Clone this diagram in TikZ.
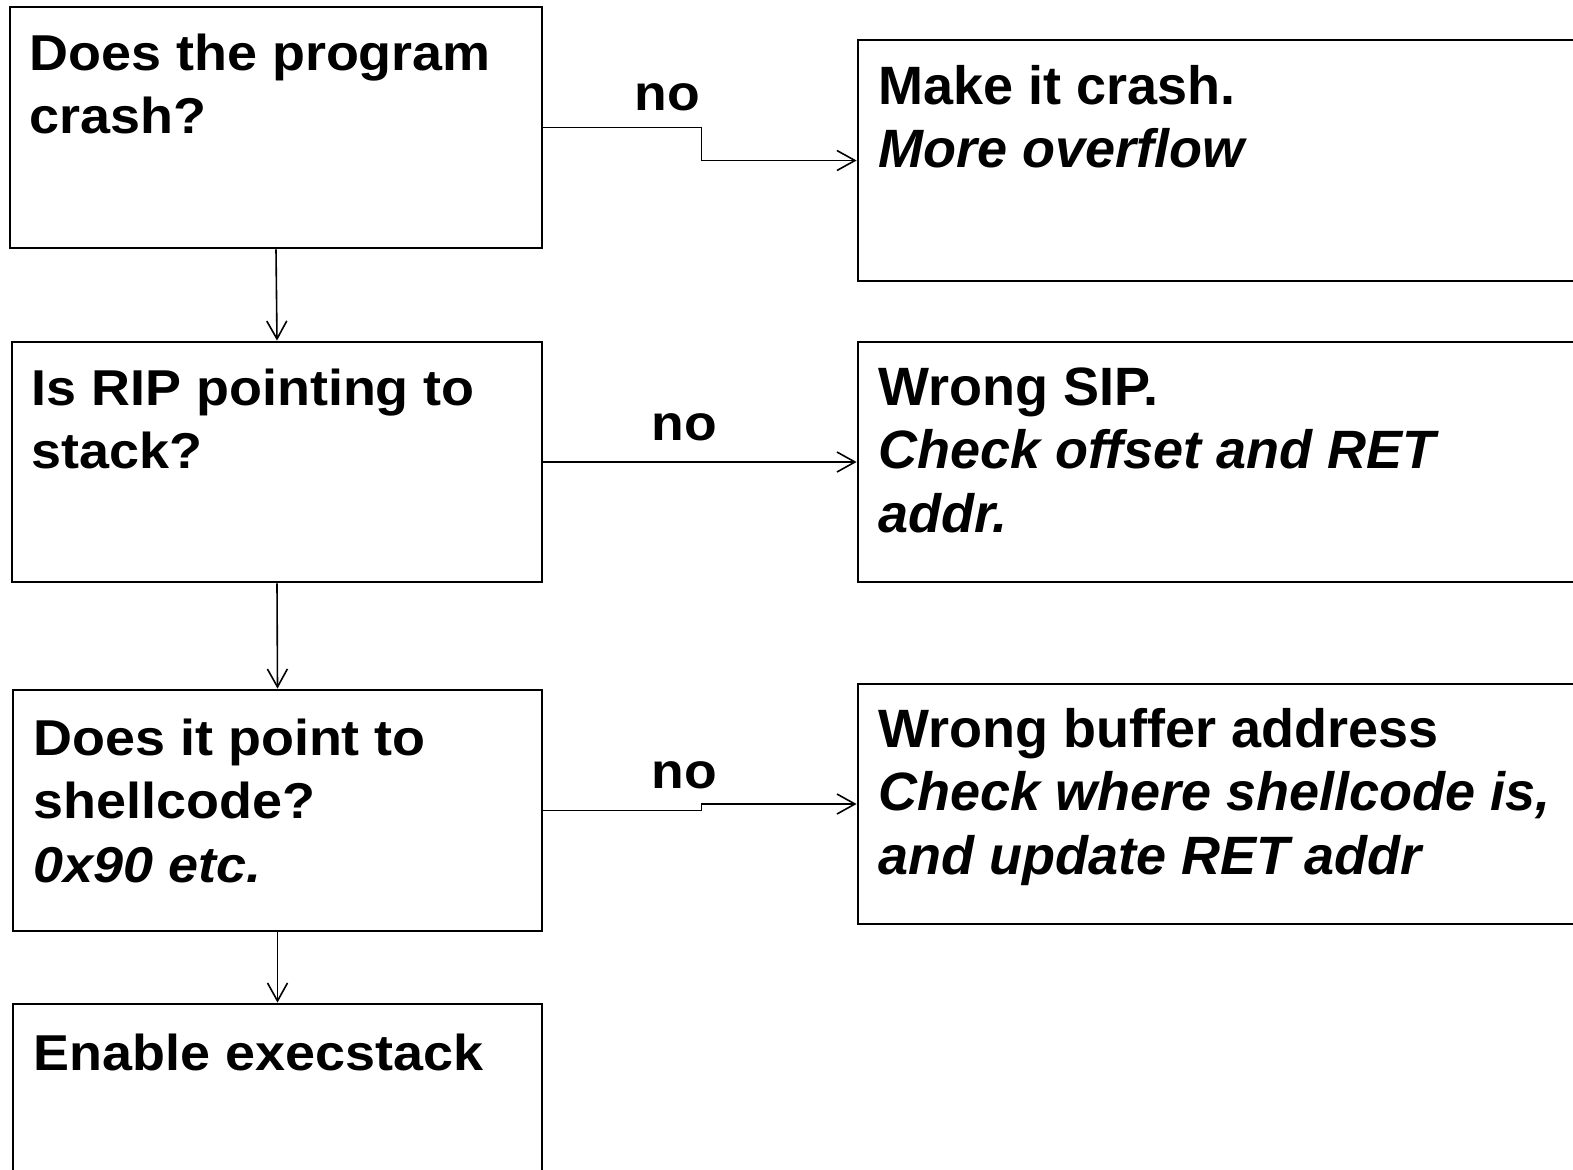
\documentclass[tikz,border=0pt]{standalone}
\usepackage{fontspec}
\setmainfont{Liberation Sans}
\newfontfamily\lfont[FakeStretch=1.07]{Liberation Sans}
\usetikzlibrary{arrows.meta,calc}
\begin{document}
\begin{tikzpicture}[x=0.5pt,y=-0.5pt,
  box/.style={draw, line width=1.4pt, rectangle, inner sep=0pt},
  lbox/.style={box, minimum height=120.5pt},
  rbox/.style={box, minimum width=370pt, minimum height=120.5pt},
  conn/.style={line width=0.8pt, -{Straight Barb[length=9pt,width=10pt,line width=0.8pt]}},
  ltxt/.style={anchor=base west, inner sep=0pt, align=left, font=\lfont\bfseries\fontsize{25.2}{31.75}\selectfont},
  rtxt/.style={anchor=base west, inner sep=0pt, align=left, font=\bfseries\fontsize{27}{31.75}\selectfont},
  nolab/.style={anchor=base, inner sep=0pt, font=\lfont\bfseries\fontsize{25}{30}\selectfont}]
\useasboundingbox (0,0) rectangle (1573,1169);
% boxes
\node[lbox, minimum width=266pt] (a) at (276,127.5) {};
\node[lbox, minimum width=265pt, minimum height=120pt] (c) at (277,462) {};
\node[lbox, minimum width=264.5pt] (e) at (277.5,810.5) {};
\node[lbox, minimum width=264.5pt] (g) at (277.5,1124.5) {};
\node[rbox] (b) at (1228,160.5) {};
\node[rbox, minimum height=120pt] (d) at (1228,462) {};
\node[rbox, minimum height=120pt] (f) at (1228,804) {};
% texts (anchor base = baseline of last line)
\node[ltxt] (at) at (29,133.5) {Does the program\\crash?};
\node[ltxt] (ct) at (31,468.5) {Is RIP pointing to\\stack?};
\node[ltxt] (et) at (33,882) {Does it point to\\shellcode?\\\itshape 0x90 etc.};
\node[ltxt] (gt) at (33,1070) {Enable execstack};
\node[rtxt] (bt) at (878,167.5) {Make it crash.\\\itshape More overflow};
\node[rtxt] (dt) at (878,532) {Wrong SIP.\\\itshape Check offset and RET\\\itshape addr.};
\node[rtxt] (ft) at (878,874) {Wrong buffer address\\\itshape Check where shellcode is,\\\itshape and update RET addr};
% labels
\node[nolab] (n1) at (667,110) {no};
\node[nolab] (n2) at (684,440) {no};
\node[nolab] (n3) at (684,788) {no};
% connectors
\draw[conn] (a.east) -- ++(158,0) |- (b.west);
\draw[conn] (a.south) -- (c.north);
\draw[conn] (c.east) -- (d.west);
\draw[conn] (c.south) -- (e.north);
\draw[conn] (e.east) -- ++(158,0) |- (f.west);
\draw[conn] (e.south) -- (g.north);
\end{tikzpicture}
\end{document}
